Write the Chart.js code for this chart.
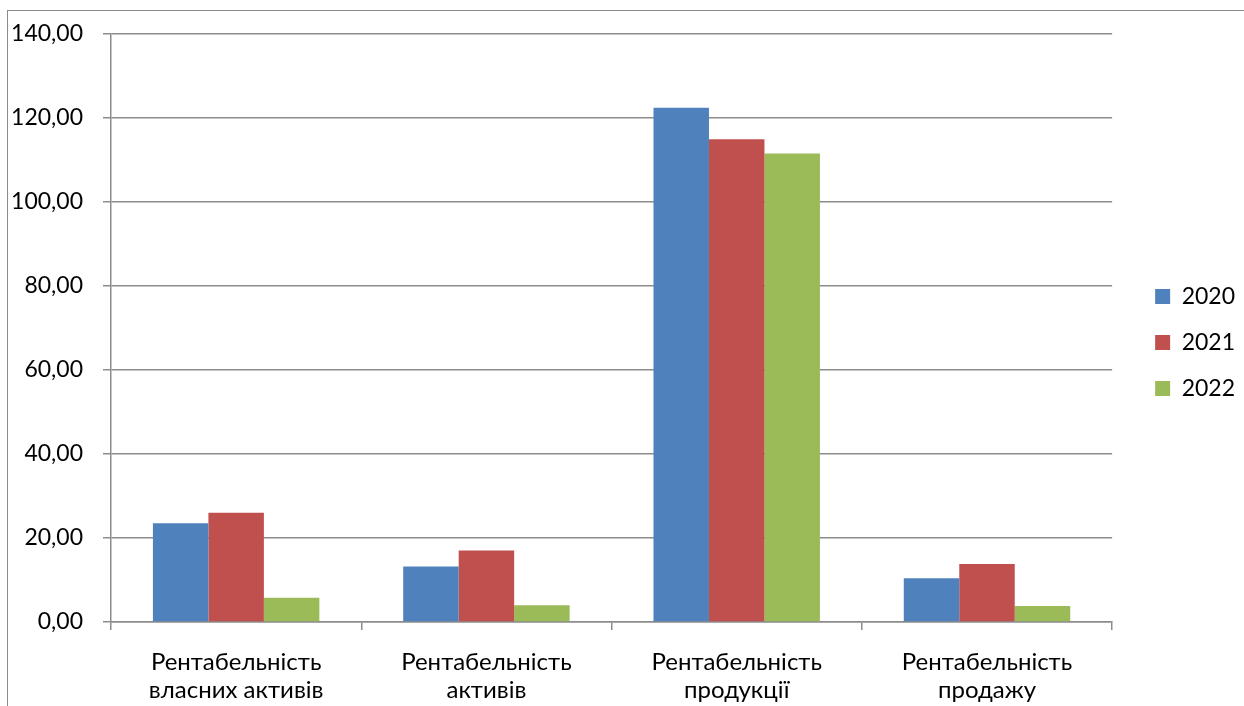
<!DOCTYPE html>
<html>
<head>
<meta charset="utf-8">
<script src="https://cdn.jsdelivr.net/npm/chart.js@4.4.1/dist/chart.umd.min.js"></script>
<style>
  html, body { margin: 0; padding: 0; background: #fff; overflow: hidden; }
  #frame { position: absolute; left: 7px; top: 10px; width: 2000px; height: 2000px; border: 1px solid #8c8c8c; }
  #myBar { position: absolute; left: 0; top: 0; }
</style>
</head>
<body>
<div id="frame"></div>
<canvas id="myBar" width="1244" height="706"></canvas>
<script>
const Chart = window.Chart;

// data
const categories = [
  ['Рентабельність', 'власних активів'],
  ['Рентабельність', 'активів'],
  ['Рентабельність', 'продукції'],
  ['Рентабельність', 'продажу']
];
const years = ['2020', '2021', '2022'];
const values2020 = [23.5, 13.2, 122.4, 10.4];
const values2021 = [26.0, 17.0, 114.9, 13.8];
const values2022 = [5.8, 4.0, 111.5, 3.8];
const yMin = 0;
const yMax = 140;
const yStep = 20;

const colors = ['#4f81bd', '#c0504d', '#9bbb59'];
const gridColor = '#8c8c8c';
const fontFamily = 'Lato, "Liberation Sans", sans-serif';

// nudge the legend so there is a gap after the plot like in the original
const legendShift = {
  id: 'legendShift',
  afterLayout(chart) {
    const lg = chart.legend;
    lg.left += 20; lg.right += 20;
    lg.top -= 27; lg.bottom -= 27;
  }
};

const datasetArray = [values2020, values2021, values2022].map((series, i) => ({
  label: years[i],
  data: series,
  backgroundColor: colors[i],
  borderWidth: 0,
  categoryPercentage: 0.665,
  barPercentage: 1
}));

new Chart(document.getElementById('myBar').getContext('2d'), {
  type: 'bar',
  data: { labels: categories, datasets: datasetArray },
  options: {
    responsive: false,
    devicePixelRatio: 1,
    animation: false,
    layout: { padding: { top: 33, left: 0, right: 19, bottom: 0 } },
    plugins: {
      tooltip: { enabled: false },
      legend: {
        position: 'right',
        labels: {
          boxWidth: 15,
          boxHeight: 15,
          padding: 23,
          color: '#000',
          font: { family: fontFamily, size: 23 }
        }
      }
    },
    scales: {
      x: {
        afterFit(scale) { scale.height = 84; },
        grid: {
          display: true,
          drawOnChartArea: false,
          drawTicks: true,
          tickLength: 8,
          color: gridColor,
          lineWidth: 1.5,
          offset: true
        },
        border: { color: gridColor, width: 1.5 },
        ticks: {
          color: '#000',
          padding: 18,
          maxRotation: 0,
          font: { family: fontFamily, size: 24, lineHeight: 1.167 }
        }
      },
      y: {
        min: yMin,
        max: yMax,
        afterFit(scale) { scale.width = 111; },
        grid: { color: gridColor, lineWidth: 1.5, tickLength: 8 },
        border: { color: gridColor, width: 1.5 },
        ticks: {
          stepSize: yStep,
          color: '#000',
          padding: 20,
          font: { family: fontFamily, size: 23 },
          callback: v => v.toFixed(2).replace('.', ',')
        }
      }
    }
  },
  plugins: [legendShift]
});
</script>
</body>
</html>
